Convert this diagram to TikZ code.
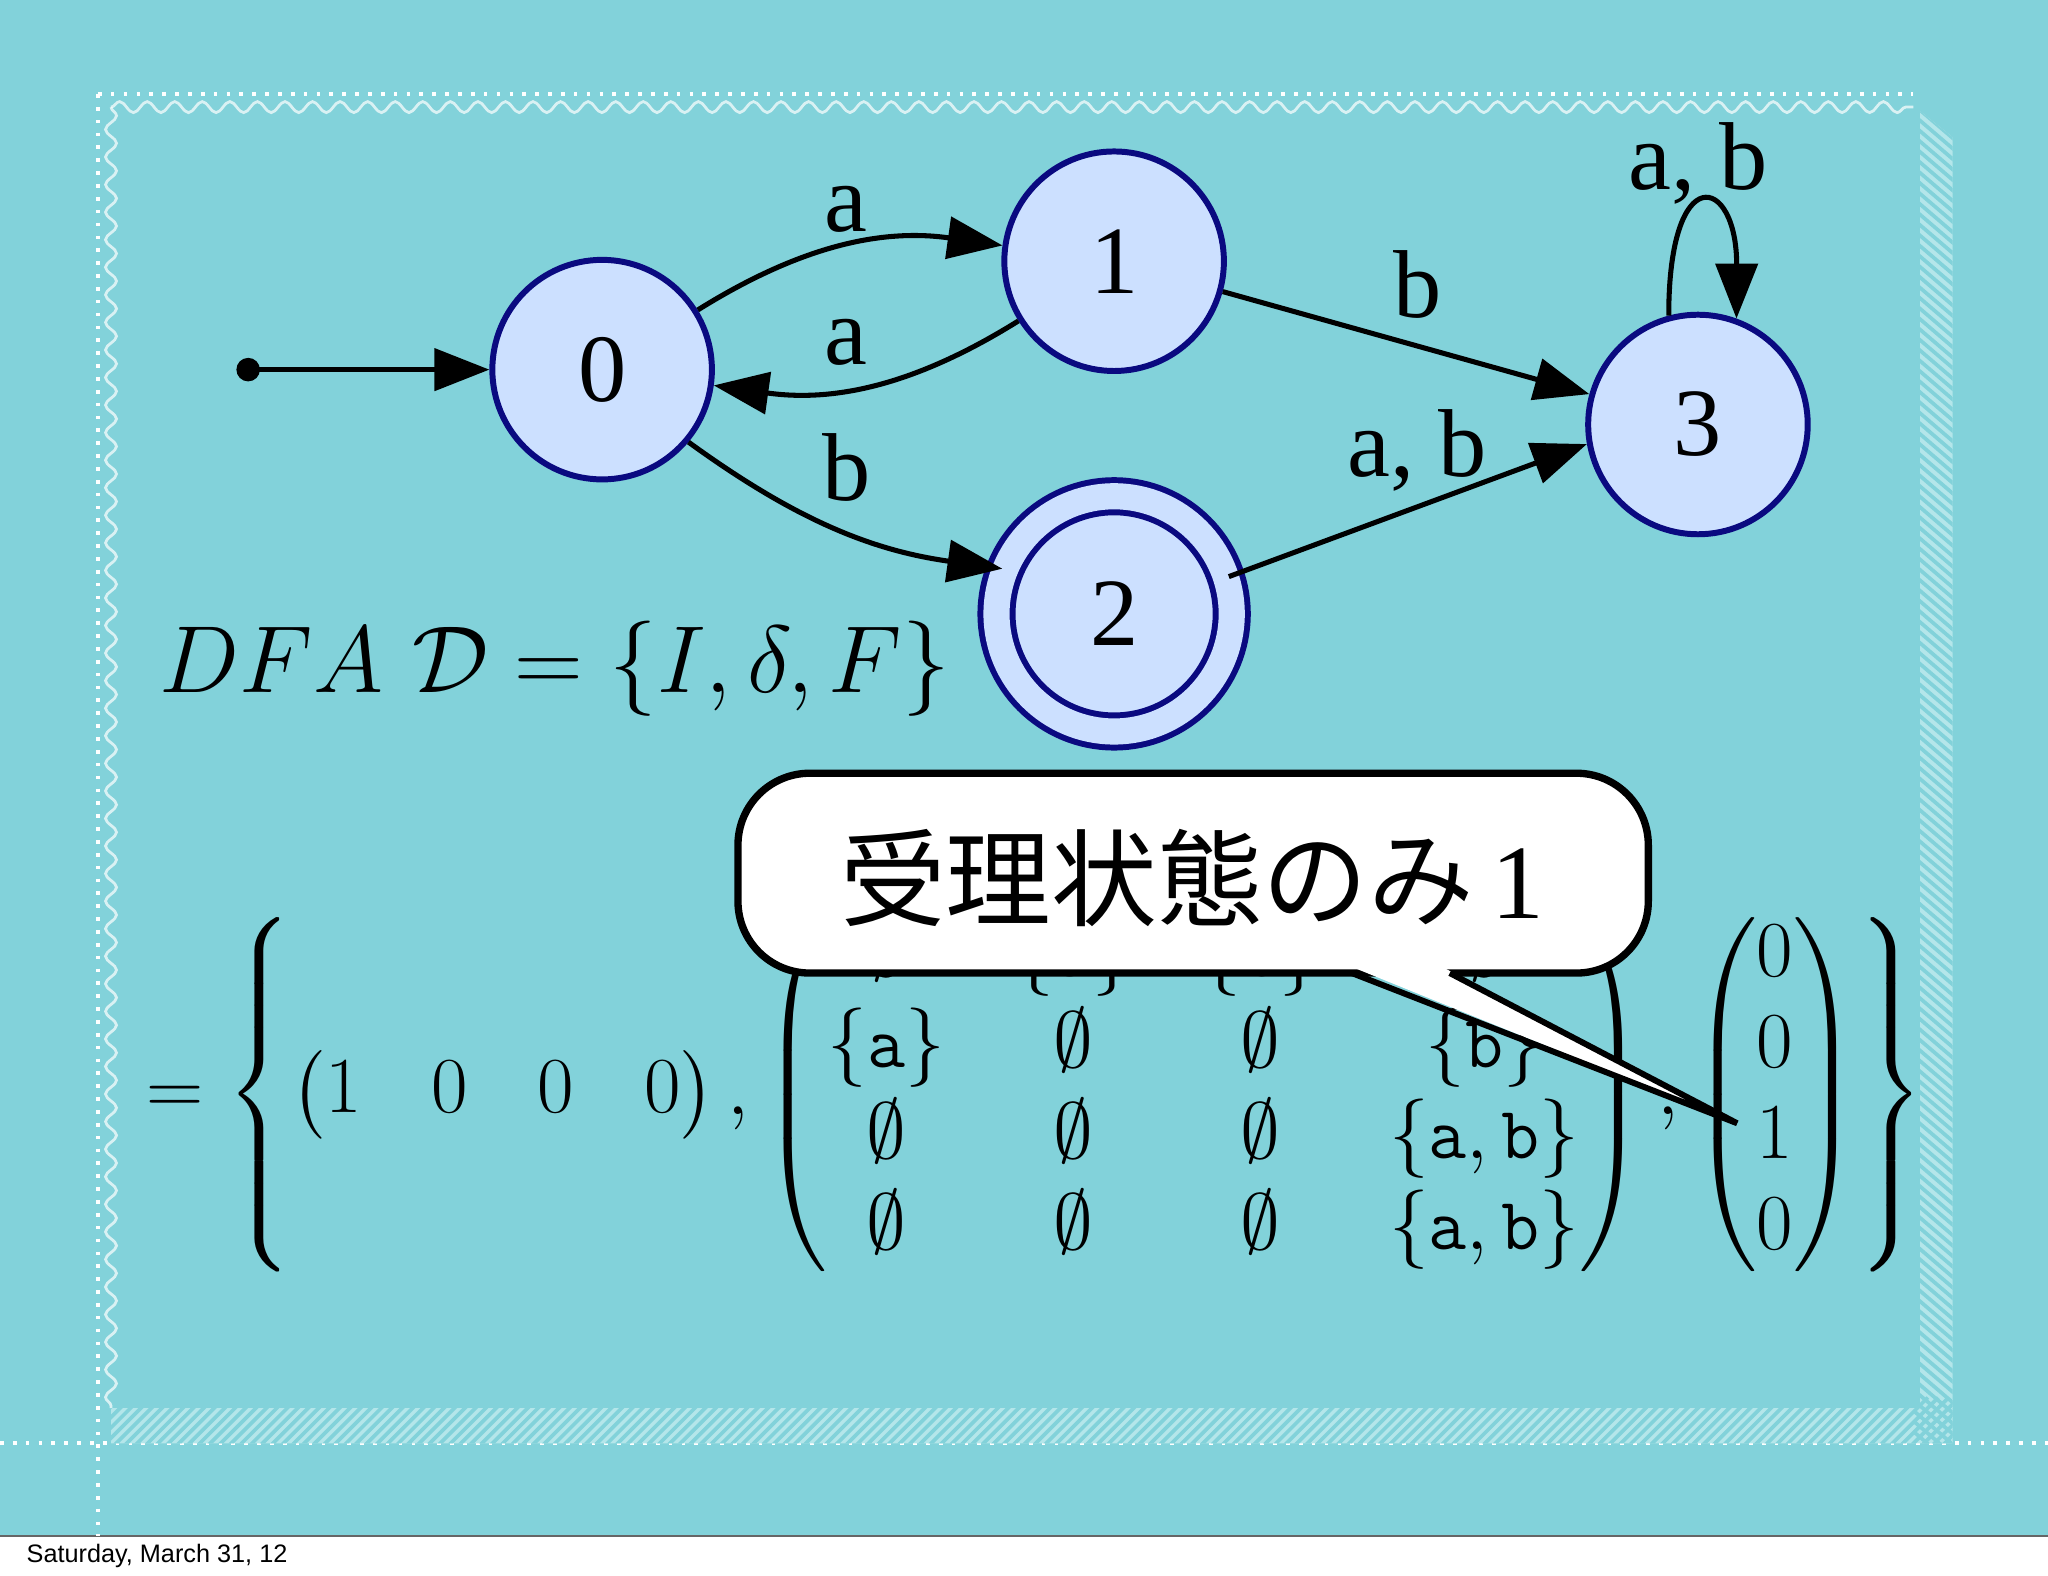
\documentclass[tikz,border=0pt]{standalone}
\usepackage{amsmath,amssymb}
\usepackage{fontspec}
\newfontfamily\cjk{Noto Sans CJK JP}
\newfontfamily\labelsans{Liberation Sans}
\newfontfamily\labelserif{Liberation Serif}
\usetikzlibrary{arrows.meta,decorations.pathmorphing}
\definecolor{bg}{HTML}{82D2DA}
\definecolor{band}{HTML}{B4E6EA}
\definecolor{nodefill}{HTML}{CCE0FF}
\definecolor{nodedraw}{HTML}{0A0A80}
\tikzset{
 state/.style={circle,fill=nodefill,draw=nodedraw,line width=1.3pt,minimum size=1.68cm,inner sep=0pt,font=\labelserif\fontsize{21}{24}\selectfont},
 edge/.style={line width=1.1pt,-{Triangle[length=0.42cm,width=0.32cm]}},
 lab/.style={font=\labelserif\fontsize{21}{24}\selectfont},
 frame/.style={white,line width=0.8pt,dotted}
}
\begin{document}
\begin{tikzpicture}[x=0.01cm,y=-0.01cm]
\useasboundingbox (0,0) rectangle (1568,1206);
\fill[bg] (0,0) rectangle (1568,1176);
\fill[white] (0,1176) rectangle (1568,1206);
\draw[black!60,line width=0.4pt] (0,1176) -- (1568,1176);
\node[anchor=west,font=\labelsans\fontsize{5.5}{6}\selectfont] (date) at (8,1191) {Saturday, March 31, 12};
% frame
\draw[frame] (75,72) -- (1465,72);
\draw[frame] (75,72) -- (75,1176);
\draw[frame] (0,1105) -- (1568,1105);
\fill[band] (1470,85) -- (1495,105) -- (1495,1105) -- (85,1105) -- (85,1078) -- (1470,1078) -- cycle;
\begin{scope}
\clip (1470,85) -- (1495,105) -- (1495,1105) -- (85,1105) -- (85,1078) -- (1470,1078) -- cycle;
\foreach \i in {0,8,...,1500} {\draw[bg,line width=0.8pt] (\i+60,1070) -- (\i+20,1110);}
\foreach \i in {80,88,...,1100} {\draw[bg,line width=0.8pt] (1465,\i) -- (1500,\i+30);}
\end{scope}
\draw[white,opacity=0.7,line width=0.6pt,decorate,decoration={snake,amplitude=1.2pt,segment length=6pt}] (85,82) -- (1465,82);
\draw[white,opacity=0.7,line width=0.6pt,decorate,decoration={snake,amplitude=1.2pt,segment length=6pt}] (85,82) -- (85,1078);
% automaton
\coordinate (start) at (190,283);
\fill (start) circle (0.09cm);
\node[state] (s0) at (461,283) {0};
\node[state] (s1) at (853,200) {1};
\node[state,minimum size=1.80cm,double=nodefill,double distance=0.2cm,line width=1.3pt] (s2) at (853,470) {2};
\node[state] (s3) at (1300,325) {3};
\draw[edge] (start) -- (s0);
\draw[edge] (s0) to[bend left=20] (s1);
\draw[edge] (s1) to[bend left=20] (s0);
\draw[edge] (s0.-40) to[bend right=14] (s2.158);
\draw[edge] (s1) -- (s3);
\draw[edge] (s2.18) -- (s3.-170);
\draw[edge] (s3.105) .. controls +(-0.2,-120) and +(0.3,-110) .. (s3.70);
\node[lab] (la1) at (648,160) {a};
\node[lab] (la2) at (648,262) {a};
\node[lab] (lb1) at (648,358) {b};
\node[lab] (lb2) at (1085,218) {b};
\node[lab] (lab1) at (1085,345) {a, b};
\node[lab] (lab2) at (1300,125) {a, b};
\node[font=\fontsize{20.8}{24}\selectfont] (dfa) at (425,512) {$DFA\ \mathcal{D}=\{I,\delta,F\}$};
% equation
\node[font=\fontsize{16.1}{19.8}\selectfont,anchor=west] (eq) at (100,838) {\setlength\arraycolsep{7.6pt}$\displaystyle =\left\{\begin{pmatrix}1&0&0&0\end{pmatrix},\begin{pmatrix}\emptyset&\{\mathtt{a}\}&\{\mathtt{b}\}&\emptyset\\ \{\mathtt{a}\}&\emptyset&\emptyset&\{\mathtt{b}\}\\ \emptyset&\emptyset&\emptyset&\{\mathtt{a},\mathtt{b}\}\\ \emptyset&\emptyset&\emptyset&\{\mathtt{a},\mathtt{b}\}\end{pmatrix},\begin{pmatrix}0\\0\\1\\0\end{pmatrix}\right\}$};
% callout
\coordinate (tip) at (1330,860);
\coordinate (b1) at (1035,745);
\coordinate (b2) at (1110,745);
\coordinate (c1) at (1022,735);
\coordinate (c2) at (1098,737);
\draw[fill=white,line width=1.6pt,rounded corners=0.55cm] (565,592) rectangle (1262,745);
\fill[white] (c1) -- (tip) -- (c2) -- cycle;
\draw[line width=1.3pt] (b1) -- (tip) -- (b2);
\node[font=\cjk\fontsize{23}{26}\selectfont] (call) at (913,672) {受理状態のみ\,{\labelserif 1}};
\end{tikzpicture}
\end{document}
